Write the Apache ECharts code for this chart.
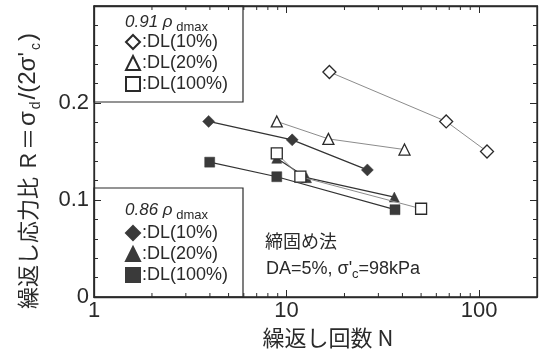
<!DOCTYPE html>
<html><head><meta charset="utf-8">
<script src="https://cdn.jsdelivr.net/npm/echarts@6/dist/echarts.min.js"></script>
<style>html,body{margin:0;padding:0;background:#fff}#c{width:541px;height:361px}</style>
</head><body><div id="c"></div>
<script>
// ---- data ----
const xMajorTicks = [1, 10, 100];
const xMinorTicks = [2, 3, 4, 5, 6, 7, 8, 9, 20, 30, 40, 50, 60, 70, 80, 90];
const yTickLabels = ['0', '0.1', '0.2'];

// 0.91 ρdmax (open markers)
const open10  = [[16.7, 0.232], [67.5, 0.181], [110, 0.150]];
const open20  = [[8.9, 0.181], [16.5, 0.163], [41, 0.152]];
const open100 = [[8.9, 0.148], [11.8, 0.124], [50, 0.091]];
// 0.86 ρdmax (filled markers)
const fill10  = [[3.94, 0.181], [10.7, 0.162], [26.3, 0.131]];
const fill20  = [[8.9, 0.143], [12.7, 0.123], [36.3, 0.103]];
const fill100 = [[3.99, 0.139], [8.9, 0.124], [36.6, 0.090]];

const LAT = 'Liberation Sans, Arial, Noto Sans CJK JP, sans-serif';
const CJK = 'Noto Sans CJK JP, sans-serif';
const INK = '#2a2a2a';

const chart = echarts.init(document.getElementById('c'), null, {renderer: 'canvas'});

function openSeries(name, data, symbol, size) {
  return {
    name, type: 'line', data, symbol, symbolSize: size,
    lineStyle: {color: '#8c8c8c', width: 1},
    itemStyle: {color: '#fff', borderColor: INK, borderWidth: 1.3},
    z: 4, animation: false
  };
}
function fillSeries(name, data, symbol, size) {
  return {
    name, type: 'line', data, symbol, symbolSize: size,
    lineStyle: {color: '#333', width: 1.2},
    itemStyle: {color: '#3a3a3a', borderColor: '#3a3a3a', borderWidth: 0.5},
    z: 3, animation: false
  };
}

const legendCommon = {
  orient: 'vertical', left: 125, padding: 0, itemGap: 3,
  itemWidth: 14, itemHeight: 14, selectedMode: false,
  textStyle: {fontSize: 18, color: INK, fontFamily: LAT, padding: [0, 0, 0, -3]},
  formatter: n => ':' + n.split('|')[1]
};

const isDecade = v => { const l = Math.log10(v); return Math.abs(l - Math.round(l)) < 1e-6; };
const axLine = () => ({show: true, onZero: false, lineStyle: {color: INK, width: 1.3}});
const tick = () => ({show: true, inside: true, length: 7, lineStyle: {color: INK, width: 1}});
const minor = () => ({show: true, splitNumber: 5, length: 4, lineStyle: {color: INK, width: 1}});

const option = {
  backgroundColor: '#fff',
  animation: false,
  grid: {left: 94, right: 4, top: 6, bottom: 64, outerBoundsMode: 'none',
         show: true, borderColor: INK, borderWidth: 1.3, backgroundColor: 'rgba(0,0,0,0)'},
  xAxis: [{
    type: 'log', logBase: 10, min: 1, max: 200, position: 'bottom',
    axisLine: axLine(), axisTick: tick(),
    axisLabel: {fontSize: 22, color: INK, fontFamily: LAT, margin: 3, showMinLabel: true,
      formatter: v => (isDecade(v) && xMajorTicks.includes(Math.round(v))) ? String(Math.round(v)) : ''},
    splitLine: {show: false}
  }, {
    type: 'log', logBase: 10, min: 1, max: 200, position: 'top',
    axisLine: axLine(), axisTick: tick(),
    axisLabel: {show: false}, splitLine: {show: false}
  }],
  yAxis: [{
    type: 'value', min: 0, max: 0.3, interval: 0.1, position: 'left',
    axisLine: axLine(), axisTick: tick(), minorTick: minor(),
    axisLabel: {fontSize: 22, color: INK, fontFamily: LAT, margin: 5,
      formatter: v => { const i = Math.round(v * 10); return i < yTickLabels.length ? yTickLabels[i] : ''; }},
    splitLine: {show: false}
  }, {
    type: 'value', min: 0, max: 0.3, interval: 0.1, position: 'right',
    axisLine: axLine(), axisTick: tick(), minorTick: minor(),
    axisLabel: {show: false}, splitLine: {show: false}
  }],
  legend: [
    Object.assign({}, legendCommon, {top: 33, data: [
      {name: 'o|DL(10%)', icon: 'diamond'},
      {name: 'o|DL(20%)', icon: 'triangle'},
      {name: 'o|DL(100%)', icon: 'rect'}]}),
    Object.assign({}, legendCommon, {top: 224, data: [
      {name: 'f|DL(10%)', icon: 'diamond'},
      {name: 'f|DL(20%)', icon: 'triangle'},
      {name: 'f|DL(100%)', icon: 'rect'}]})
  ],
  series: [
    fillSeries('f|DL(10%)', fill10, 'diamond', 12),
    fillSeries('f|DL(20%)', fill20, 'triangle', 10),
    fillSeries('f|DL(100%)', fill100, 'rect', 10),
    openSeries('o|DL(10%)', open10, 'diamond', 13),
    openSeries('o|DL(20%)', open20, 'triangle', 11),
    openSeries('o|DL(100%)', open100, 'rect', 11),
    {
      type: 'custom', silent: true, z: 5, xAxisIndex: 1, yAxisIndex: 1,
      data: xMinorTicks.map(v => [v, 0]),
      encode: {x: 0, y: 1}, clip: false,
      renderItem: (params, api) => {
        const v = api.value(0);
        const pb = api.coord([v, 0]);
        const pt = api.coord([v, 0.3]);
        const st = {stroke: INK, lineWidth: 1};
        return {type: 'group', children: [
          {type: 'line', shape: {x1: pb[0], y1: pb[1], x2: pb[0], y2: pb[1] - 4}, style: st},
          {type: 'line', shape: {x1: pt[0], y1: pt[1], x2: pt[0], y2: pt[1] + 4}, style: st}
        ]};
      }
    }
  ],
  graphic: [
    {type: 'rect', shape: {x: 94, y: 6, width: 149, height: 96}, style: {fill: 'rgba(0,0,0,0)', stroke: INK, lineWidth: 1.2}, z: 10},
    {type: 'rect', shape: {x: 94, y: 188, width: 149, height: 109}, style: {fill: 'rgba(0,0,0,0)', stroke: INK, lineWidth: 1.2}, z: 10},
    {type: 'text', x: 125, y: 22, z: 10, style: {
      text: '{i|0.91 ρ}{s| dmax}', verticalAlign: 'middle', fill: INK,
      rich: {i: {fontSize: 17, fontStyle: 'italic', fontFamily: LAT, fill: INK, lineHeight: 24},
             s: {fontSize: 13, fontFamily: LAT, fill: INK, verticalAlign: 'bottom', lineHeight: 13}}}},
    {type: 'text', x: 125, y: 210, z: 10, style: {
      text: '{i|0.86 ρ}{s| dmax}', verticalAlign: 'middle', fill: INK,
      rich: {i: {fontSize: 17, fontStyle: 'italic', fontFamily: LAT, fill: INK, lineHeight: 24},
             s: {fontSize: 13, fontFamily: LAT, fill: INK, verticalAlign: 'bottom', lineHeight: 13}}}},
    {type: 'text', x: 265, y: 241, z: 10, style: {
      text: '締固め法', font: '18px ' + CJK, fill: INK, verticalAlign: 'middle'}},
    {type: 'text', x: 266, y: 269, z: 10, style: {
      text: '{t|DA=5%, σ\'}{s|c}{t|=98kPa}', verticalAlign: 'middle', fill: INK,
      rich: {t: {fontSize: 18, fontFamily: LAT, fill: INK, lineHeight: 24},
             s: {fontSize: 13, fontFamily: LAT, fill: INK, verticalAlign: 'bottom', lineHeight: 13}}}},
    {type: 'text', x: 328, y: 338, z: 10, style: {
      text: '繰返し回数 N', font: '22px ' + CJK, fill: INK, align: 'center', verticalAlign: 'middle'}},
    {type: 'text', x: 28, y: 170, rotation: Math.PI / 2, z: 10, style: {
      text: '{t|繰返し応力比 Ｒ＝}{g|σ}{s|d}{g|/(2σ\'}{s|c}{g|)}', align: 'center', verticalAlign: 'middle', fill: INK,
      rich: {t: {fontSize: 22, fontFamily: CJK, fill: INK, lineHeight: 30},
             g: {fontSize: 24, fontFamily: LAT, fill: INK, lineHeight: 30, padding: [0, 2, 0, 2]},
             s: {fontSize: 14, fontFamily: LAT, fill: INK, verticalAlign: 'bottom', lineHeight: 16}}}}
  ]
};
chart.setOption(option);
</script>
</body></html>
